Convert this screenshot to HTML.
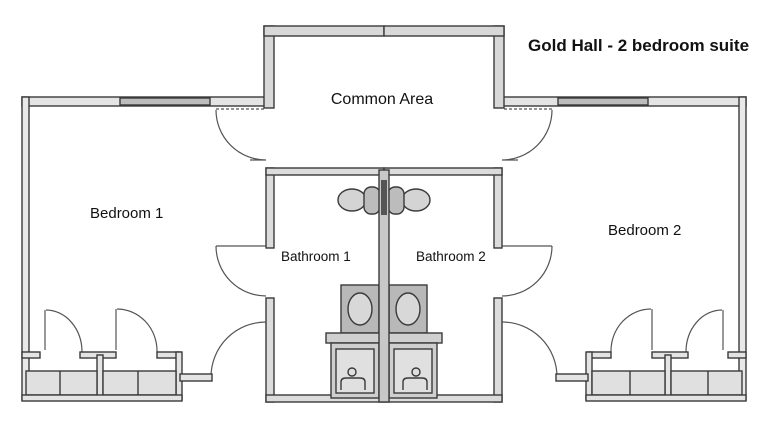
<!DOCTYPE html>
<html><head><meta charset="utf-8"><style>
html,body{margin:0;padding:0;background:#fff;}
svg{display:block;}
text{font-family:"Liberation Sans",sans-serif;fill:#111;}
</style></head><body>
<svg width="768" height="431" viewBox="0 0 768 431" xmlns="http://www.w3.org/2000/svg">
<defs>
<g id="half" stroke="#3a3a3a" stroke-width="1.4">
  <rect x="22" y="97" width="250" height="9" fill="#e4e4e4"/>
  <rect x="120" y="98" width="90" height="7" fill="#bdbdbd"/>
  <rect x="264" y="26" width="10" height="82" fill="#d8d8d8"/>
  <rect x="264" y="26" width="120" height="10" fill="#d8d8d8"/>
  <rect x="22" y="97" width="7" height="303" fill="#e8e8e8"/>
  <rect x="266" y="168" width="8" height="80" fill="#dcdcdc"/>
  <rect x="266" y="298" width="8" height="104" fill="#dcdcdc"/>
  <rect x="266" y="168" width="118" height="7" fill="#dcdcdc"/>
  <rect x="266" y="395" width="118" height="7" fill="#dcdcdc"/>
  <g fill="none" stroke="#555" stroke-width="1.2">
    <path d="M216 110 A50 50 0 0 0 266 160 L250 160"/>
    <line x1="216" y1="109" x2="264" y2="109" stroke-dasharray="3 2"/>
    <path d="M216 246 L266 246 M216 246 A50 50 0 0 0 266 296"/>
    <path d="M266 322 A55 55 0 0 0 211 377"/>
    <path d="M46 310 A36 42 0 0 1 82 352"/>
    <line x1="45" y1="310" x2="45" y2="350"/>
    <path d="M117 309 A40 42 0 0 1 157 352"/>
    <line x1="116" y1="309" x2="116" y2="350"/>
  </g>
  <rect x="22" y="352" width="18" height="6" fill="#e4e4e4"/>
  <rect x="80" y="352" width="36" height="6" fill="#e4e4e4"/>
  <rect x="157" y="352" width="23" height="6" fill="#e4e4e4"/>
  <rect x="97" y="355" width="6" height="45" fill="#e4e4e4"/>
  <rect x="176" y="352" width="6" height="48" fill="#e4e4e4"/>
  <rect x="180" y="374" width="32" height="7" fill="#e4e4e4"/>
  <rect x="26" y="371" width="71" height="24" fill="#e0e0e0"/>
  <rect x="103" y="371" width="73" height="24" fill="#e0e0e0"/>
  <line x1="60" y1="371" x2="60" y2="395"/>
  <line x1="138" y1="371" x2="138" y2="395"/>
  <rect x="22" y="395" width="160" height="6" fill="#e4e4e4"/>
  <ellipse cx="352" cy="200" rx="14" ry="11" fill="#d4d4d4"/>
  <rect x="364" y="187" width="16" height="27" rx="7" fill="#bcbcbc"/>
  <rect x="341" y="285" width="38" height="48" fill="#b8b8b8"/>
  <ellipse cx="360" cy="309" rx="12" ry="16" fill="#d8d8d8"/>
  <rect x="326" y="333" width="58" height="10" fill="#d0d0d0"/>
  <rect x="331" y="343" width="48" height="55" fill="#cfcfcf"/>
  <rect x="336" y="349" width="38" height="44" fill="#e0e0e0"/>
  <circle cx="352" cy="372" r="4" fill="none"/>
  <path d="M341 390 L341 382 Q341 378 346 378 L360 378 Q365 378 365 382 L365 390" fill="none"/>
</g>
</defs>
<use href="#half"/>
<use href="#half" transform="translate(768,0) scale(-1,1)"/>
<rect x="379" y="170" width="10" height="232" fill="#c8c8c8" stroke="#3a3a3a" stroke-width="1.4"/>
<rect x="381" y="180" width="6" height="35" fill="#555"/>
<text x="528" y="51" font-size="17" font-weight="bold">Gold Hall - 2 bedroom suite</text>
<text x="382" y="104" font-size="16" text-anchor="middle">Common Area</text>
<text x="90" y="218" font-size="15">Bedroom 1</text>
<text x="608" y="235" font-size="15">Bedroom 2</text>
<text x="281" y="261" font-size="13.5">Bathroom 1</text>
<text x="416" y="261" font-size="13.5">Bathroom 2</text>
</svg>
</body></html>
